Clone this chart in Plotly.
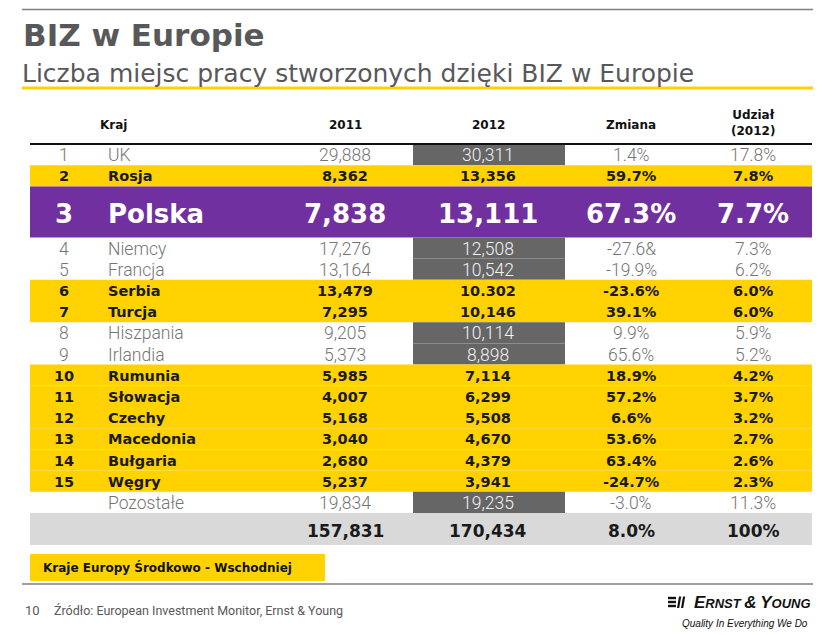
import plotly.graph_objects as go

# table data
ranks = ["1", "2", "3", "4", "5", "6", "7", "8", "9", "10", "11", "12", "13", "14", "15", ""]
countries = ["UK", "Rosja", "Polska", "Niemcy", "Francja", "Serbia", "Turcja", "Hiszpania",
             "Irlandia", "Rumunia", "Słowacja", "Czechy", "Macedonia", "Bułgaria", "Węgry",
             "Pozostałe"]
jobs_2011 = ["29,888", "8,362", "7,838", "17,276", "13,164", "13,479", "7,295", "9,205",
             "5,373", "5,985", "4,007", "5,168", "3,040", "2,680", "5,237", "19,834"]
jobs_2012 = ["30,311", "13,356", "13,111", "12,508", "10,542", "10.302", "10,146", "10,114",
             "8,898", "7,114", "6,299", "5,508", "4,670", "4,379", "3,941", "19,235"]
change = ["1.4%", "59.7%", "67.3%", "-27.6&", "-19.9%", "-23.6%", "39.1%", "9.9%", "65.6%",
          "18.9%", "57.2%", "6.6%", "53.6%", "63.4%", "-24.7%", "-3.0%"]
share = ["17.8%", "7.8%", "7.7%", "7.3%", "6.2%", "6.0%", "6.0%", "5.9%", "5.2%", "4.2%",
         "3.7%", "3.2%", "2.7%", "2.6%", "2.3%", "11.3%"]
# "cee" = Central/Eastern Europe (yellow), "pl" = Poland, "other" = rest
region = ["other", "cee", "pl", "other", "other", "cee", "cee", "other", "other",
          "cee", "cee", "cee", "cee", "cee", "cee", "other"]
totals = ["157,831", "170,434", "8.0%", "100%"]
headers = ["Kraj", "2011", "2012", "Zmiana", "Udział<br>(2012)"]

YELLOW = "#FFD200"
PURPLE = "#7030A0"
DARK = "#666666"
LIGHT = "#D9D9D9"
GREY_TXT = "#747474"
TITLE_C = "#58585A"

X0, X1 = 30, 812
COLS = dict(rank=64, name=106, y2011=345, y2012=488, chg=631, share=753)
DARK_X = (413, 565)
HEAD_Y = 144
ROW_H = 21.2
PL_H = 51
PAGE_PAD = 8  # default body margin of the html page

styles = {
    "other": dict(family="Roboto", size=17.5, color=GREY_TXT, weight=300),
    "cee": dict(family="DejaVu Sans", size=14.5, color="#1A1A1A", weight="bold"),
    "pl": dict(family="DejaVu Sans", size=26, color="white", weight="bold"),
}

shapes = []
annotations = []


def text(x, y, s, font, xanchor="center", **kw):
    annotations.append(dict(x=x, y=y, xref="x", yref="y", text=s, showarrow=False,
                            xanchor=xanchor, yanchor="middle", font=font, **kw))


def rect(x0, y0, x1, y1, color):
    shapes.append(dict(type="rect", xref="x", yref="y", x0=x0, x1=x1, y0=y0, y1=y1,
                       fillcolor=color, line=dict(width=0), layer="below"))


def hline(y, x0, x1, color, width):
    shapes.append(dict(type="line", xref="x", yref="y", x0=x0, x1=x1, y0=y, y1=y,
                       line=dict(color=color, width=width)))


# header row
head_font = dict(family="DejaVu Sans", size=12, color="#111111", weight="bold")
text(113, 125, headers[0], head_font)
text(COLS["y2011"], 125, headers[1], head_font)
text(COLS["y2012"], 125, headers[2], head_font)
text(COLS["chg"], 125, headers[3], head_font)
text(COLS["share"], 123, headers[4], head_font)
hline(HEAD_Y, X0, X1, "#111111", 2)

# body rows
top = HEAD_Y
for i, reg in enumerate(region):
    h = PL_H if reg == "pl" else ROW_H
    mid = top + h / 2 + (2 if reg == "pl" else 0.5)
    if reg == "cee":
        rect(X0, top, X1, top + h, YELLOW)
    elif reg == "pl":
        rect(X0, top, X1, top + h, PURPLE)
    else:
        rect(DARK_X[0], top, DARK_X[1], top + h, DARK)
    f = styles[reg]
    text(COLS["rank"], mid, ranks[i], f)
    text(COLS["name"], mid, countries[i], f, xanchor="left")
    text(COLS["y2011"], mid, jobs_2011[i], f)
    f12 = dict(f, color="#F2F2F2") if reg == "other" else f
    text(COLS["y2012"], mid, jobs_2012[i], f12)
    text(COLS["chg"], mid, change[i], f)
    text(COLS["share"], mid, share[i], f)
    top += h

# totals row
rect(X0, top, X1, top + 32, LIGHT)
tot_font = dict(family="DejaVu Sans", size=17, color="#1A1A1A", weight="bold")
for key, val in zip(["y2011", "y2012", "chg", "share"], totals):
    text(COLS[key], top + 17.5, val, tot_font)

# legend box
rect(30, 554, 325, 581, YELLOW)
text(41, 567.5, "Kraje Europy Środkowo - Wschodniej",
     dict(family="DejaVu Sans", size=12, color="#111111", weight="bold"), xanchor="left")

# title block
hline(9.5, 22, 813, "#7F7F7F", 1.5)
text(21, 35, "BIZ w Europie",
     dict(family="DejaVu Sans", size=31, color=TITLE_C, weight="bold"), xanchor="left")
text(20, 73, "Liczba miejsc pracy stworzonych dzięki BIZ w Europie",
     dict(family="DejaVu Sans", size=25, color=TITLE_C), xanchor="left")
hline(88, 22, 813, YELLOW, 3)

# footer
hline(584, 22, 813, "#7F7F7F", 1.5)
foot_font = dict(family="Roboto", size=12.5, color="#595959")
text(23, 610, "10", dict(foot_font, size=13), xanchor="left")
text(52, 610, "Źródło: European Investment Monitor, Ernst & Young", foot_font, xanchor="left")

# EY logo mark
for yy in (598, 602, 606):
    rect(668, yy - 1.2, 676, yy + 1.2, "#111111")
for xx in (677, 681):
    shapes.append(dict(type="path", xref="x", yref="y",
                       path=f"M {xx+2},596.5 L {xx+4.2},596.5 L {xx+2.2},608 L {xx},608 Z",
                       fillcolor="#111111", line=dict(width=0)))
logo = ("<i><b><span style='font-size:17px'>E</span>RNST "
        "<span style='font-size:17px'>&amp;</span> "
        "<span style='font-size:17px'>Y</span>OUNG</b></i>")
text(813, 602, logo, dict(family="Liberation Sans Narrow, Liberation Sans", size=13,
                          color="#111111"), xanchor="right")
text(810, 623, "<i>Quality In Everything We Do</i>",
     dict(family="Liberation Sans Narrow, Liberation Sans", size=10, color="#111111"),
     xanchor="right")

fig = go.Figure()
fig.update_layout(
    width=833 - PAGE_PAD, height=635 - PAGE_PAD,
    margin=dict(l=0, r=0, t=0, b=0),
    paper_bgcolor="white", plot_bgcolor="white",
    xaxis=dict(range=[PAGE_PAD, 833], visible=False, fixedrange=True),
    yaxis=dict(range=[635, PAGE_PAD], visible=False, fixedrange=True),
    shapes=shapes, annotations=annotations,
    showlegend=False,
)
fig.write_html("out.html", config={"displayModeBar": False})
